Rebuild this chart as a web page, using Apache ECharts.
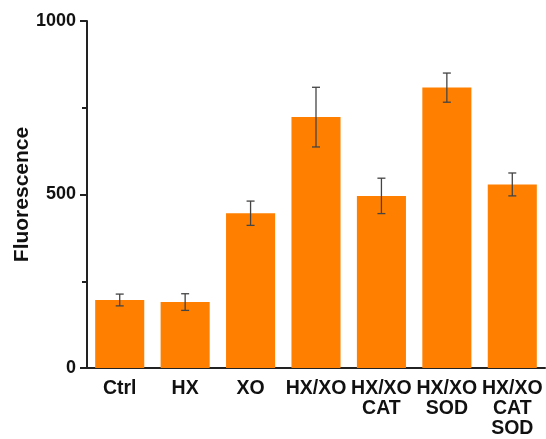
<!DOCTYPE html>
<html>
<head>
<meta charset="utf-8">
<script src="https://cdn.jsdelivr.net/npm/echarts@6/dist/echarts.min.js"></script>
<style>
html,body{margin:0;padding:0;background:#fff;}
#main{width:546px;height:439px;}
</style>
</head>
<body>
<div id="main"></div>
<script>
var categories = ['Ctrl', 'HX', 'XO', 'HX/XO', 'HX/XO\nCAT', 'HX/XO\nSOD', 'HX/XO\nCAT\nSOD'];
var means = [196, 190, 446, 723, 496, 808, 529];
var errs = [17, 24, 35, 86, 51, 42, 33];
var yTicks = [0, 500, 1000];

function getErrData(m, e) {
	var arr = new Array();
	for (var k = 0; k < m.length; k++) {
		arr[k] = [k, m[k] - e[k], m[k] + e[k]];
	}
	return arr;
}

var myChart = echarts.init(document.getElementById('main'));
var option = {
	animation: false,
	grid: {left: 87, right: 1, top: 21, bottom: 71, outerBoundsMode: 'none', containLabel: false},
	xAxis: {
		type: 'category',
		data: categories,
		axisLine: {lineStyle: {color: '#222', width: 2}},
		axisTick: {alignWithLabel: true, length: 7, lineStyle: {color: '#222', width: 2}},
		axisLabel: {
			color: '#111', fontFamily: 'Liberation Sans, Arial', fontWeight: 'bold',
			fontSize: 19.5, lineHeight: 20, margin: 11, interval: 0
		}
	},
	yAxis: {
		type: 'value',
		min: yTicks[0],
		max: yTicks[yTicks.length - 1],
		interval: 500,
		name: 'Fluorescence',
		nameLocation: 'middle',
		nameGap: 54,
		nameMoveOverlap: false,
		nameTextStyle: {color: '#111', fontFamily: 'Liberation Sans, Arial', fontWeight: 'bold', fontSize: 21},
		axisLine: {show: true, lineStyle: {color: '#222', width: 2}},
		axisTick: {show: true, length: 7, lineStyle: {color: '#222', width: 2}},
		minorTick: {show: true, splitNumber: 2, length: 5, lineStyle: {color: '#222', width: 2}},
		splitLine: {show: false},
		axisLabel: {
			color: '#111', fontFamily: 'Liberation Sans, Arial', fontWeight: 'bold', fontSize: 18, margin: 11,
			formatter: function (v) { return String(v); }
		}
	},
	series: [
		{
			type: 'bar',
			data: means,
			barCategoryGap: '25%',
			itemStyle: {color: '#ff8000'}
		},
		{
			type: 'custom',
			data: getErrData(means, errs),
			z: 10,
			renderItem: function (params, api) {
				var lo = api.coord([api.value(0), api.value(1)]);
				var hi = api.coord([api.value(0), api.value(2)]);
				var w = 4;
				var st = {stroke: '#444', lineWidth: 1.3};
				return {
					type: 'group',
					children: [
						{type: 'line', shape: {x1: hi[0], y1: hi[1], x2: lo[0], y2: lo[1]}, style: st},
						{type: 'line', shape: {x1: hi[0] - w, y1: hi[1], x2: hi[0] + w, y2: hi[1]}, style: st},
						{type: 'line', shape: {x1: lo[0] - w, y1: lo[1], x2: lo[0] + w, y2: lo[1]}, style: st}
					]
				};
			}
		}
	]
};
myChart.setOption(option);
</script>
</body>
</html>
